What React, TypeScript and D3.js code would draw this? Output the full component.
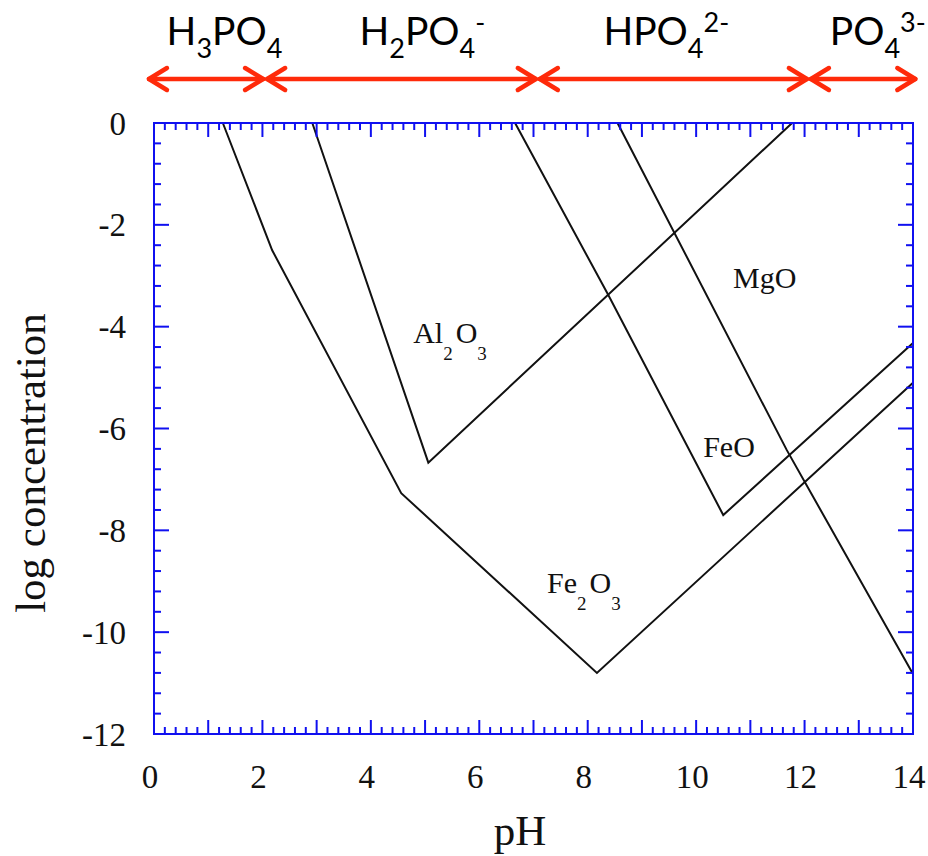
import React from 'react';
import * as d3 from 'd3';

// ---- data ----
const phTickLabels = [0, 2, 4, 6, 8, 10, 12, 14];
const logTickLabels = [0, -2, -4, -6, -8, -10, -12];

const fe2o3: [number, number][] = [[1.27, 0], [2.18, -2.5], [4.56, -7.27], [8.17, -10.8], [14, -5.1]];
const al2o3: [number, number][] = [[2.92, 0], [5.06, -6.67], [11.77, 0]];
const feo: [number, number][] = [[6.66, 0], [8.38, -3.38], [10.5, -7.7], [14, -4.32]];
const mgo: [number, number][] = [[8.55, 0], [11.67, -6.42], [14, -10.82]];

// phosphate species bands (pH boundaries) and label centres
const bandBounds = [-0.13, 2.05, 7.08, 12.08, 14.08];
const speciesCenters = [1.3, 4.95, 9.45, 13.35];
// part kinds: 0 normal, 1 subscript, 2 superscript
const speciesParts: [string, number][][] = [
  [["H", 0], ["3", 1], ["PO", 0], ["4", 1]],
  [["H", 0], ["2", 1], ["PO", 0], ["4", 1], ["-", 2]],
  [["HPO", 0], ["4", 1], ["2-", 2]],
  [["PO", 0], ["4", 1], ["3-", 2]],
];

// oxide labels
const oxideLabels: { ph: number; log: number; parts: [string, number][] }[] = [
  { ph: 4.78, log: -4.32, parts: [["Al", 0], ["2", 1], ["O", 0], ["3", 1]] },
  { ph: 10.68, log: -3.24, parts: [["MgO", 0]] },
  { ph: 10.13, log: -6.56, parts: [["FeO", 0]] },
  { ph: 7.25, log: -9.23, parts: [["Fe", 0], ["2", 1], ["O", 0], ["3", 1]] },
];

const W = 928, H = 856;
const left = 154, right = 913, top = 123, bottom = 734;

export default function App() {
  const x = d3.scaleLinear().domain([0, 14]).range([left, right]);
  const y = d3.scaleLinear().domain([-12, 0]).range([bottom, top]);
  const line = d3.line<[number, number]>().x(d => x(d[0])).y(d => y(d[1]));

  const blue = '#1010f0';
  const red = '#ff2a0a';

  const xTicks = d3.range(0, 70 + 1).map(i => ({ v: i * 0.2, major: i % 5 === 0 }));
  const yTicks = d3.range(0, 30 + 1).map(i => ({ v: -12 + i * 0.4, major: i % 5 === 0 }));

  const renderParts = (parts: [string, number][], subSize: number, shift: number, gap = 0) => {
    let cur = 0;
    return parts.map(([t, k], i) => {
      const target = k === 1 ? shift : k === 2 ? -shift : 0;
      const dy = target - cur;
      cur = target;
      return (
        <tspan key={i} dy={dy} dx={k === 0 && i > 0 ? gap : 0} fontSize={k === 0 ? undefined : subSize}>
          {t}
        </tspan>
      );
    });
  };

  return (
    <svg width={W} height={H} style={{ position: 'absolute', left: 0, top: 0, background: '#fff' }}>
      {/* species arrows */}
      {speciesCenters.map((c, i) => {
        const x0 = x(bandBounds[i]);
        const x1 = x(bandBounds[i + 1]);
        const ay = 79;
        const hl = 18, hw = 11;
        return (
          <g key={i} stroke={red} strokeWidth={4.5} strokeLinecap="round" strokeLinejoin="round" fill="none">
            <line x1={x0 + 2} y1={ay} x2={x1 - 2} y2={ay} />
            <polyline points={`${x0 + 2 + hl},${ay - hw} ${x0 + 2},${ay} ${x0 + 2 + hl},${ay + hw}`} />
            <polyline points={`${x1 - 2 - hl},${ay - hw} ${x1 - 2},${ay} ${x1 - 2 - hl},${ay + hw}`} />
          </g>
        );
      })}
      {speciesCenters.map((c, i) => (
        <text key={i} x={x(c)} y={45} textAnchor="middle" fontFamily="Lato, 'Open Sans', sans-serif" fontSize={39} fill="#000">
          {renderParts(speciesParts[i], 27, 13)}
        </text>
      ))}

      {/* data lines */}
      <g fill="none" stroke="#111" strokeWidth={2} strokeLinejoin="miter">
        {[fe2o3, al2o3, feo, mgo].map((d, i) => (
          <path key={i} d={line(d) || ''} />
        ))}
      </g>

      {/* oxide labels */}
      {oxideLabels.map((l, i) => (
        <text key={i} x={x(l.ph)} y={y(l.log)} fontFamily="'Liberation Serif', 'Times New Roman', serif" fontSize={30} fill="#111">
          {renderParts(l.parts, 19, 17, 3)}
        </text>
      ))}

      {/* frame */}
      <rect x={left} y={top} width={right - left} height={bottom - top} fill="none" stroke={blue} strokeWidth={2} />
      <g stroke={blue} strokeWidth={2}>
        {xTicks.map((t, i) => {
          const px = x(t.v);
          const len = t.major ? 14 : 7;
          return (
            <g key={i}>
              <line x1={px} y1={bottom} x2={px} y2={bottom - len} />
              <line x1={px} y1={top} x2={px} y2={top + len} />
            </g>
          );
        })}
        {yTicks.map((t, i) => {
          const py = y(t.v);
          const len = t.major ? 15 : 7;
          return (
            <g key={i}>
              <line x1={left} y1={py} x2={left + len} y2={py} />
              <line x1={right} y1={py} x2={right - len} y2={py} />
            </g>
          );
        })}
      </g>

      {/* tick labels */}
      <g fontFamily="'Liberation Serif', 'Times New Roman', serif" fontSize={33} fill="#111">
        {phTickLabels.map(v => (
          <text key={v} x={x(v) - 4} y={788} textAnchor="middle">{v}</text>
        ))}
        {logTickLabels.map(v => (
          <text key={v} x={126} y={y(v)} dy="0.35em" textAnchor="end">{v}</text>
        ))}
      </g>

      {/* axis titles */}
      <text x={520} y={845} textAnchor="middle" fontFamily="'Liberation Serif', 'Times New Roman', serif" fontSize={43} fill="#111">pH</text>
      <text transform={`translate(45, 463) rotate(-90)`} textAnchor="middle" fontFamily="'Liberation Serif', 'Times New Roman', serif" fontSize={43} fill="#111">log concentration</text>
    </svg>
  );
}
